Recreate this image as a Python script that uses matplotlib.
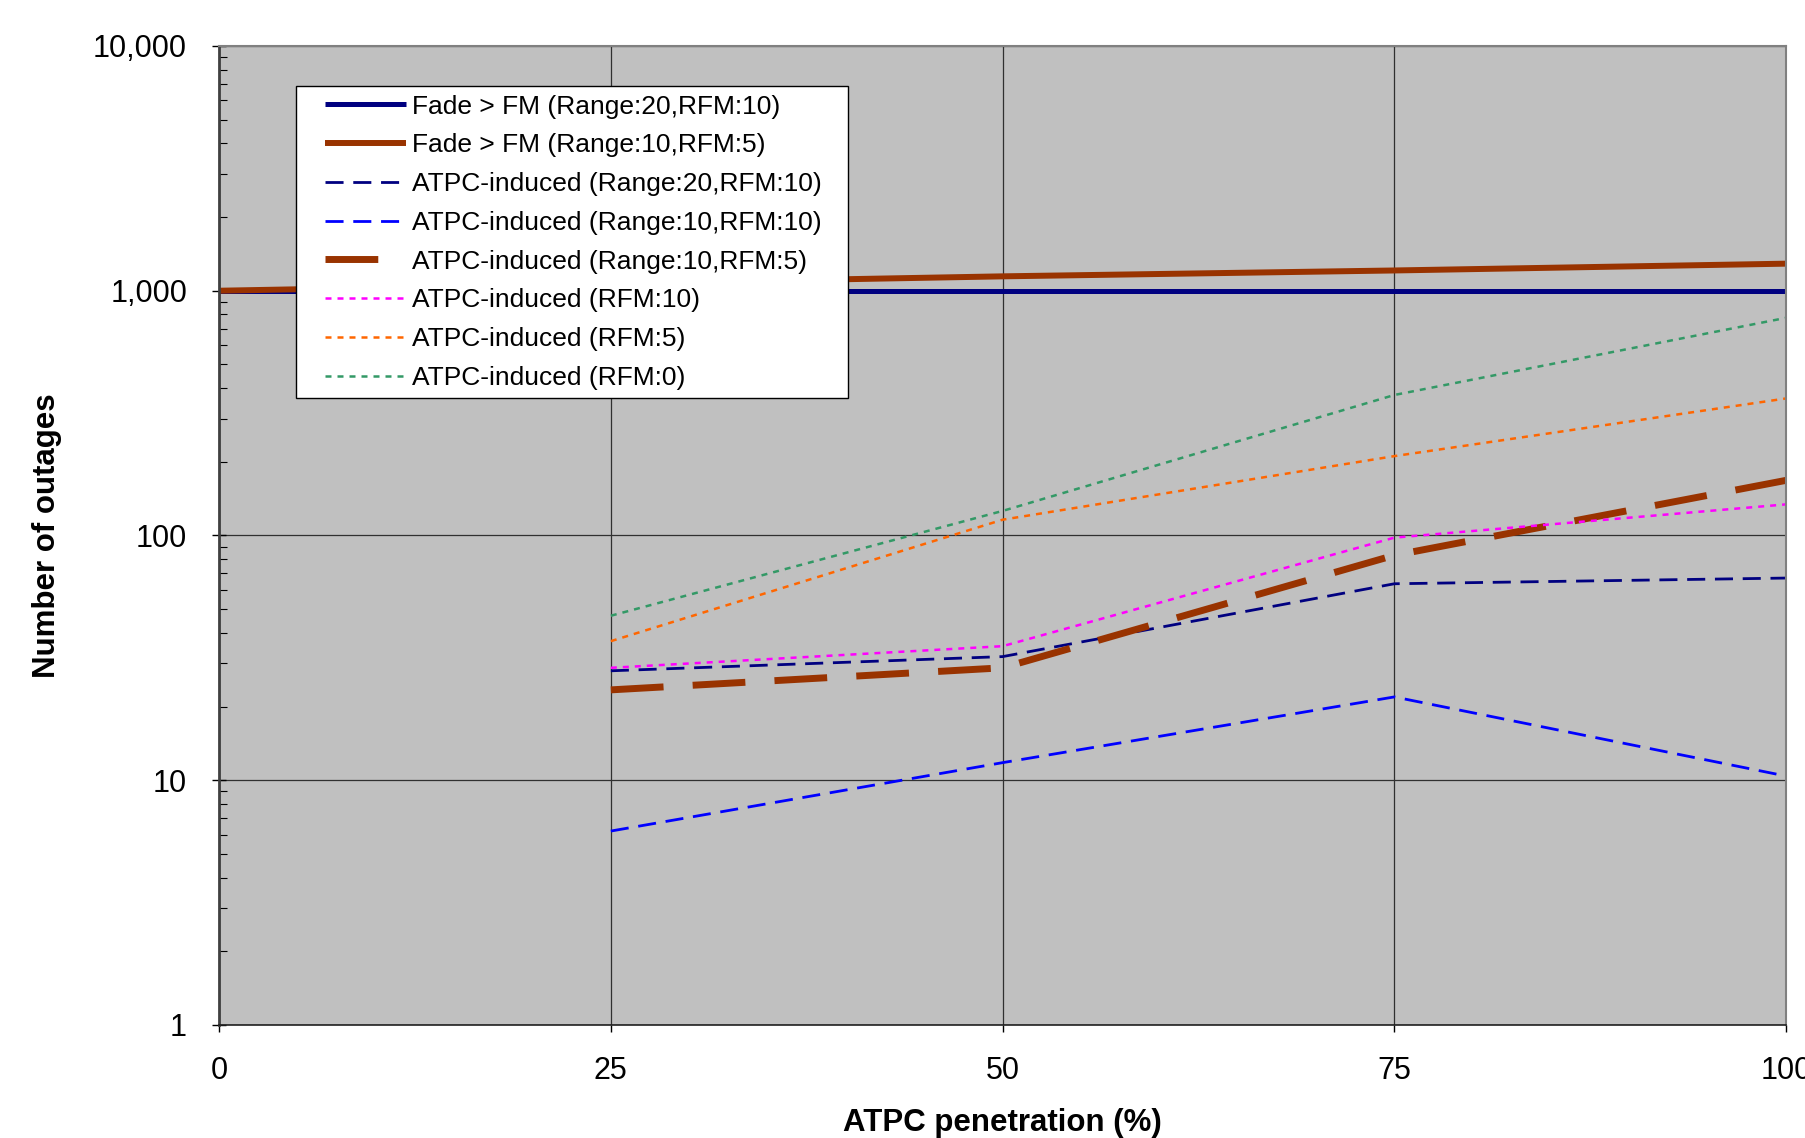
import matplotlib
matplotlib.use('Agg')
import matplotlib.pyplot as plt
import matplotlib.ticker as ticker
from matplotlib.path import Path

plt.rcParams['font.family'] = ['Liberation Sans', 'DejaVu Sans']

# ATPC penetration (%)
penetration = [0, 25, 50, 75, 100]
penetration_atpc = [25, 50, 75, 100]

# Number of outages
fade_r20_rfm10 = [1000, 1000, 1000, 1000, 1000]
fade_r10_rfm5 = [1000, 1070, 1145, 1210, 1290]
atpc_r20_rfm10 = [28, 32, 63.5, 67]
atpc_r10_rfm10 = [6.2, 11.8, 21.9, 10.4]
atpc_r10_rfm5 = [23.4, 28.8, 83, 168]
atpc_rfm10 = [28.8, 35.3, 98, 134]
atpc_rfm5 = [37, 116, 211, 363]
atpc_rfm0 = [47, 126, 375, 775]


def wide_box(x0, y0, width, height, mutation_size):
    # legend frame with more room left and right than top and bottom
    left = x0 - 0.79 * mutation_size
    right = x0 + width + 0.68 * mutation_size
    top = y0 + height
    return Path([(left, y0), (right, y0), (right, top), (left, top), (left, y0)],
                closed=True)


fig = plt.figure(figsize=(18.06, 11.38), dpi=100)
ax = fig.add_axes([0.1213, 0.0993, 0.8677, 0.8603])
ax.set_facecolor('#C0C0C0')

ax.plot(penetration, fade_r20_rfm10, color='#000080', lw=3.6, solid_capstyle='butt',
        label='Fade > FM (Range:20,RFM:10)')
ax.plot(penetration, fade_r10_rfm5, color='#993300', lw=4.3, solid_capstyle='butt',
        label='Fade > FM (Range:10,RFM:5)')
ax.plot(penetration_atpc, atpc_r20_rfm10, color='#000080', lw=2.0, dashes=(6.5, 3.5),
        label='ATPC-induced (Range:20,RFM:10)')
ax.plot(penetration_atpc, atpc_r10_rfm10, color='#0000FF', lw=2.0, dashes=(6.5, 3.5),
        label='ATPC-induced (Range:10,RFM:10)')
ax.plot(penetration_atpc, atpc_r10_rfm5, color='#993300', lw=5.0, dashes=(7.6, 4.2),
        label='ATPC-induced (Range:10,RFM:5)')
ax.plot(penetration_atpc, atpc_rfm10, color='#FF00FF', lw=1.8, dashes=(2.4, 2.4),
        label='ATPC-induced (RFM:10)')
ax.plot(penetration_atpc, atpc_rfm5, color='#FF6600', lw=1.8, dashes=(2.4, 2.4),
        label='ATPC-induced (RFM:5)')
ax.plot(penetration_atpc, atpc_rfm0, color='#339966', lw=1.8, dashes=(2.4, 2.4),
        label='ATPC-induced (RFM:0)')

ax.set_yscale('log')
ax.set_xlim(0, 100)
ax.set_ylim(1, 10000)
ax.set_xticks([0, 25, 50, 75, 100])
ax.yaxis.set_major_formatter(ticker.FuncFormatter(lambda v, p: f'{v:,.0f}'))
ax.yaxis.set_minor_formatter(ticker.NullFormatter())

ax.grid(True, which='major', color='#303030', linewidth=0.9)
ax.set_axisbelow(True)

ax.tick_params(axis='x', which='major', direction='out', length=5, width=1,
               pad=17, labelsize=22)
ax.tick_params(axis='y', which='major', direction='inout', length=10, width=1,
               pad=18, labelsize=22)
ax.tick_params(axis='y', which='minor', direction='in', length=6, width=0.8)

for side in ['top', 'right']:
    ax.spines[side].set_color('#808080')
    ax.spines[side].set_linewidth(1.5)
ax.spines['left'].set_color('#404040')
ax.spines['left'].set_linewidth(2.0)
ax.spines['bottom'].set_color('#202020')
ax.spines['bottom'].set_linewidth(1.2)

ax.set_xlabel('ATPC penetration (%)', fontsize=22.5, fontweight='bold')
ax.xaxis.set_label_coords(0.5, -0.100)
ax.xaxis.label.set_va('center')
ax.set_ylabel('Number of outages', fontsize=22.5, fontweight='bold')
ax.yaxis.set_label_coords(-0.110, 0.5)
ax.yaxis.label.set_va('center')

leg = ax.legend(loc='upper left', bbox_to_anchor=(0.0624, 0.9587), fontsize=19,
                frameon=True, fancybox=False, framealpha=1, edgecolor='black',
                handlelength=3.06, handletextpad=0.25, labelspacing=0.56,
                borderpad=0.31, borderaxespad=0)
leg.get_frame().set_linewidth(1.0)
leg.get_frame().set_boxstyle(wide_box)

fig.savefig('out.png', dpi=100)
